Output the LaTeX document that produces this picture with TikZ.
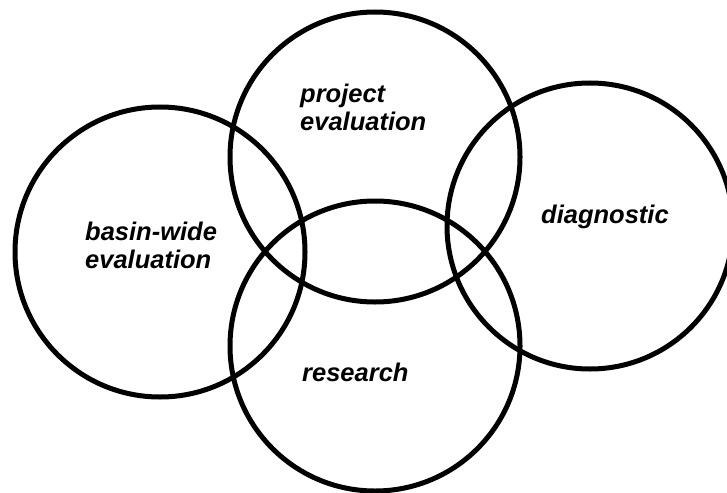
\documentclass[tikz,border=0pt]{standalone}
\usepackage{fontspec}
\setmainfont{Liberation Sans}
\usetikzlibrary{shapes,positioning}
\tikzset{field/.style={draw,circle,line width=5pt,minimum size=290pt,inner sep=0pt}}
\tikzstyle{lbl}=[font=\fontsize{25.5}{28}\selectfont\bfseries\itshape, align=left, inner sep=0pt, anchor=base west]

\begin{document}
\begin{tikzpicture}[x=1pt,y=-1pt]
\useasboundingbox (0,0) rectangle (727,492);
\node[field] (B) at (160,252) {};
\node[field] (P) at (375,157) {};
\node[field] (R) at (375,346) {};
\node[field, minimum size=286pt] (D) at (590,226) {};

% two-line labels are placed by the baseline of their last line
\node[lbl] (Bt) at (85,268) {basin-wide\\evaluation};
\node[lbl] (Pt) at (300,130) {project\\evaluation};
\node[lbl] (Dt) at (541,223) {diagnostic};
\node[lbl] (Rt) at (302,381) {research};
\end{tikzpicture}
\end{document}
